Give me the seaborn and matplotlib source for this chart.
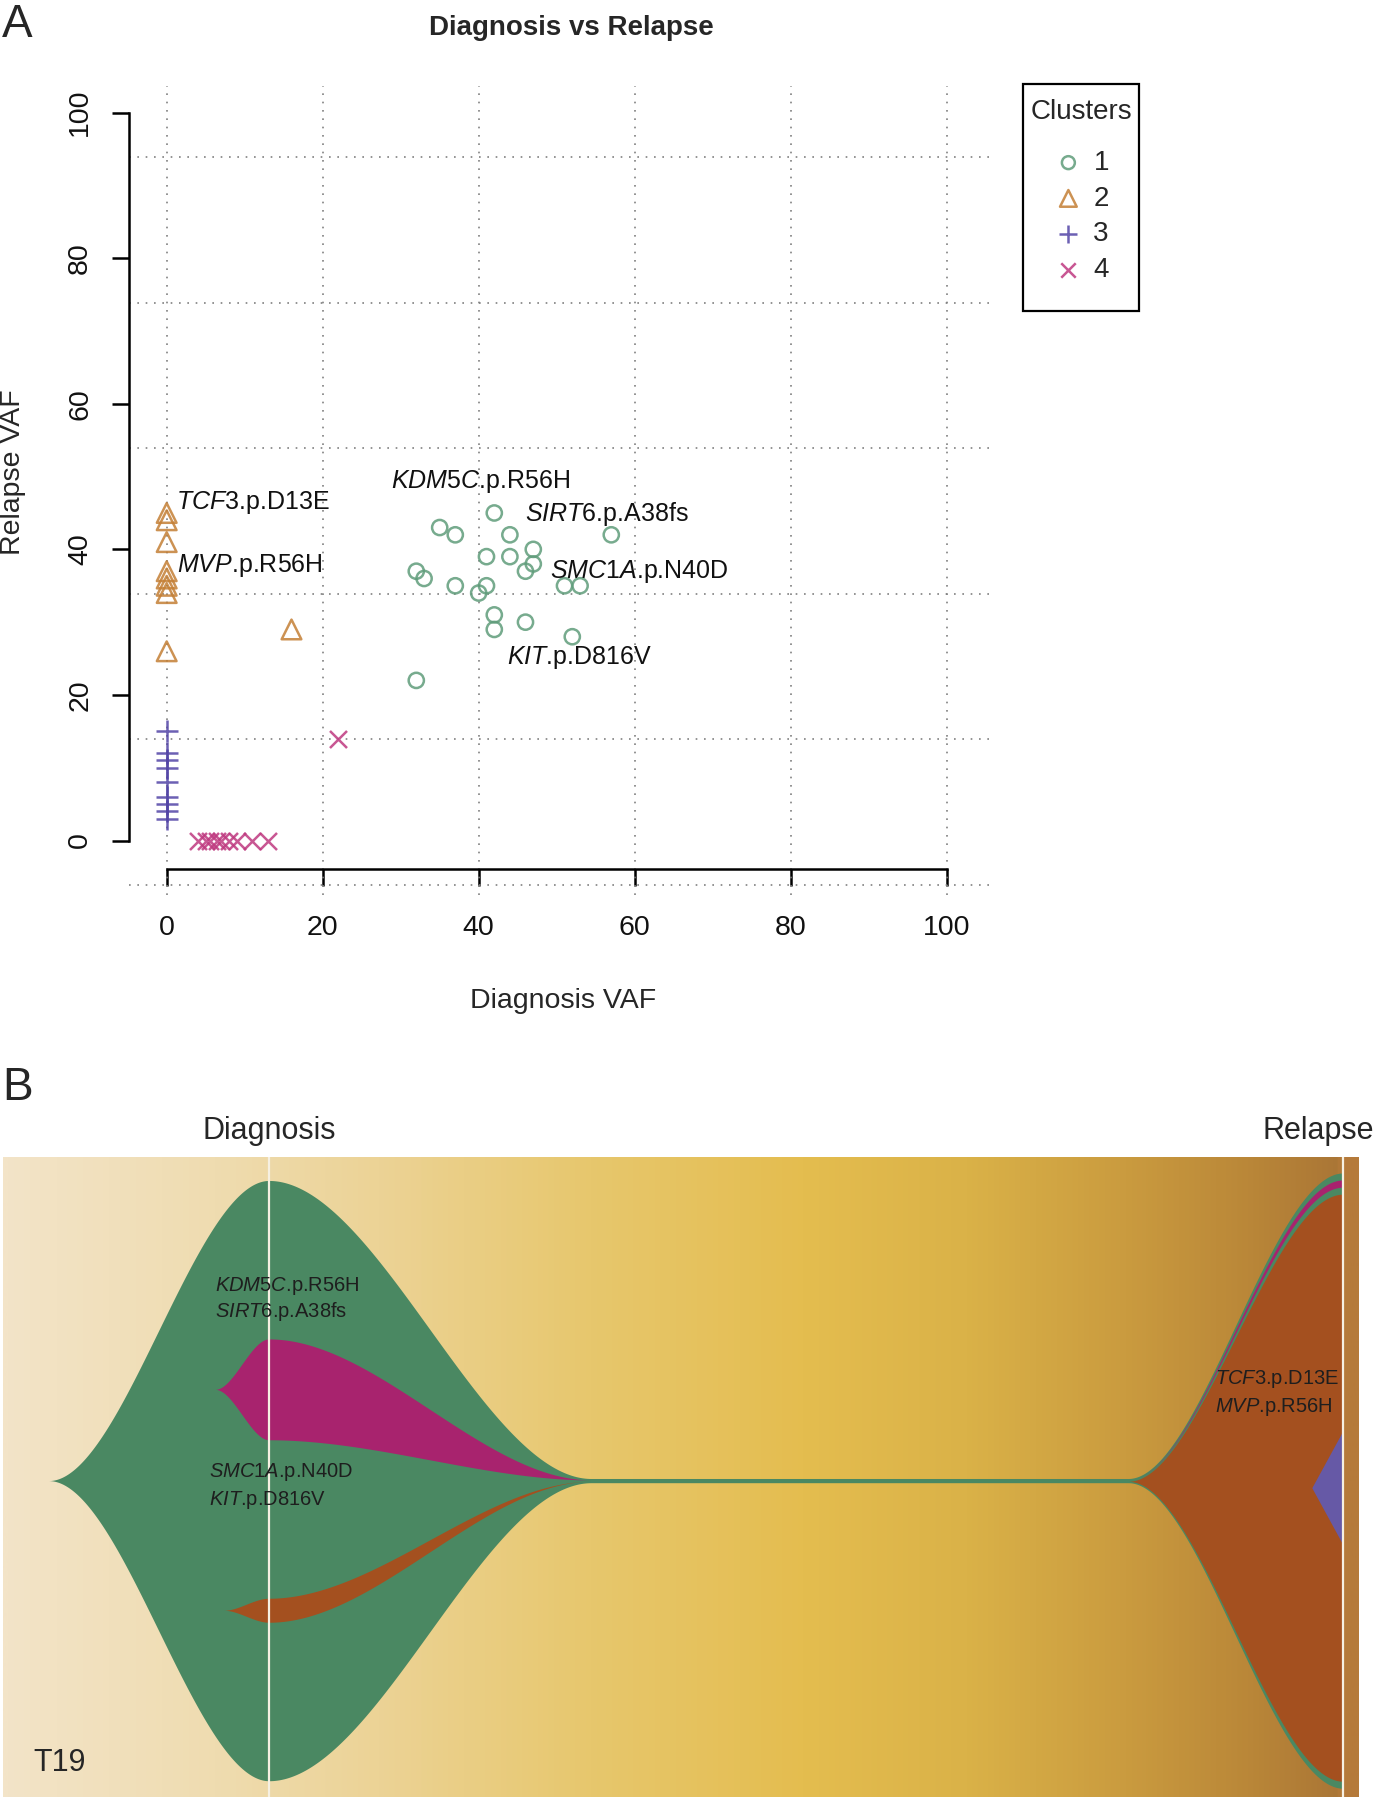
import numpy as np
import pandas as pd
import matplotlib
matplotlib.use('Agg')
import matplotlib.pyplot as plt
import seaborn as sns
from matplotlib.colors import LinearSegmentedColormap
from matplotlib.patches import Rectangle

# ---- panel A: VAF per mutation, by cluster ----
diag_1 = [42, 35, 37, 44, 57, 47, 41, 44, 47, 46, 32, 33, 37, 41, 40, 51, 53, 42, 42, 46, 52, 32]
rel_1 = [45, 43, 42, 42, 42, 40, 39, 39, 38, 37, 37, 36, 35, 35, 34, 35, 35, 31, 29, 30, 28, 22]
diag_2 = [0, 0, 0, 0, 0, 0, 0, 0, 16]
rel_2 = [45, 44, 41, 37, 36, 35, 34, 26, 29]
diag_3 = [0, 0, 0, 0, 0, 0, 0, 0, 0]
rel_3 = [15, 12, 11, 10, 8, 6, 5, 4, 3]
diag_4 = [22, 4, 5, 5.5, 6.5, 7, 8, 9, 11, 13]
rel_4 = [14, 0, 0, 0, 0, 0, 0, 0, 0, 0]

clusters = [1, 2, 3, 4]
cluster_colors = {1: '#5f9c7a', 2: '#c47f35', 3: '#5244a6', 4: '#bf3a80'}
cluster_markers = {1: 'o', 2: '^', 3: '+', 4: 'x'}
cluster_sizes = {1: 120, 2: 200, 3: 230, 4: 150}

gene_labels = [r'$\mathit{TCF3}$.p.D13E', r'$\mathit{MVP}$.p.R56H', r'$\mathit{KDM5C}$.p.R56H',
               r'$\mathit{SIRT6}$.p.A38fs', r'$\mathit{SMC1A}$.p.N40D', r'$\mathit{KIT}$.p.D816V']
gene_x = [1.2, 1.3, 28.8, 45.9, 49.1, 43.6]
gene_y = [46.5, 37.8, 49.3, 44.8, 36.9, 25.2]

# ---- panel B: fish plot, clone fractions at each timepoint ----
fish_time = [0, 30, 80, 100]          # diagnosis, remission, remission, relapse
frac_clone1 = [100, 0.7, 0.7, 102.5]
frac_clone2 = [4, 0, 0, 97.8]
frac_clone3 = [0, 0, 0, 19]
frac_clone4 = [16.8, 0, 0, 1.2]
clone_parent = {1: 0, 2: 1, 3: 2, 4: 1}
clone_start = {1: -20.5, 2: -4.2, 3: 97.1, 4: -5.0}
clone_colors = {1: '#4a8862', 2: '#a4501f', 3: '#6659a6', 4: '#a8236e'}

df = pd.DataFrame({
    'diag': diag_1 + diag_2 + diag_3 + diag_4,
    'rel': rel_1 + rel_2 + rel_3 + rel_4,
    'cluster': [1] * len(diag_1) + [2] * len(diag_2) + [3] * len(diag_3) + [4] * len(diag_4),
})

sns.set_style('white')
plt.rcParams['font.family'] = ['Liberation Sans', 'DejaVu Sans']
plt.rcParams['mathtext.fontset'] = 'custom'
plt.rcParams['mathtext.rm'] = 'Liberation Sans'
plt.rcParams['mathtext.it'] = 'Liberation Sans:italic'

fig = plt.figure(figsize=(13.75, 18), dpi=100)

# ================= panel A =================
ax = fig.add_axes([0.0940, 0.5027, 0.6257, 0.4493])
for cl in clusters:
    sub = df[df['cluster'] == cl]
    kw = dict(marker=cluster_markers[cl], s=cluster_sizes[cl], linewidth=1.8, alpha=0.85,
              label=str(cl), ax=ax, zorder=3)
    if cluster_markers[cl] in ('o', '^'):
        kw.update(facecolor='none', edgecolor=cluster_colors[cl])
    else:
        kw.update(color=cluster_colors[cl])
    sns.scatterplot(data=sub, x='diag', y='rel', **kw)

ax.set_xlim(-4.8, 105.5)
ax.set_ylim(-7.5, 103.6)
ax.set_xticks([0, 20, 40, 60, 80, 100])
ax.set_yticks([0, 20, 40, 60, 80, 100])
ax.set_xlabel('')
ax.set_ylabel('')

for gx in [0, 20, 40, 60, 80, 100]:
    ax.axvline(gx, color='#808080', lw=1.2, ls=(0, (1, 4)), zorder=1)
for gy in [-6.1, 13.9, 33.9, 53.9, 73.9, 93.9]:
    ax.axhline(gy, color='#808080', lw=1.2, ls=(0, (1, 4)), zorder=1)

for side in ['top', 'right']:
    ax.spines[side].set_visible(False)
ax.spines['bottom'].set_position(('data', -3.96))
ax.spines['bottom'].set_bounds(0, 100)
ax.spines['left'].set_bounds(0, 100)
for side in ['bottom', 'left']:
    ax.spines[side].set_linewidth(1.8)
    ax.spines[side].set_color('black')
ax.tick_params(axis='both', bottom=True, left=True, direction='out', length=12, width=1.8,
               labelsize=20.5, color='black', labelcolor='#111111')
ax.tick_params(axis='x', pad=21)
ax.tick_params(axis='y', pad=14)
plt.setp(ax.get_yticklabels(), rotation=90, va='center', ha='right')

for lab, lx, ly in zip(gene_labels, gene_x, gene_y):
    ax.text(lx, ly, lab, fontsize=18, ha='left', va='center', zorder=4, color='#111111')

leg = ax.legend(loc='upper left', bbox_to_anchor=(0.7669, 0.9167), bbox_transform=fig.transFigure,
                frameon=False, fontsize=20, handlelength=1.0, handletextpad=0.4,
                labelspacing=0.35, borderpad=0, borderaxespad=0, markerscale=0.85)
fig.patches.append(Rectangle((0.7442, 1 - 310.7 / 1800), 116 / 1375, 226.7 / 1800,
                             transform=fig.transFigure, fill=False, ec='black', lw=1.6))
fig.text(0.7867, 1 - 111.7 / 1800, 'Clusters', fontsize=20, ha='center', va='center')

fig.text(0.4158, 1 - 35 / 1800, 'Diagnosis vs Relapse', fontsize=20, fontweight='bold',
         ha='center', va='baseline')
fig.text(0.4098, 1 - 1008 / 1800, 'Diagnosis VAF', fontsize=20.5, ha='center', va='baseline')
fig.text(0.0095, 0.7378, 'Relapse VAF', fontsize=20.5, ha='center', va='center', rotation=90)
fig.text(0.0015, 1 - 36.7 / 1800, 'A', fontsize=33, ha='left', va='baseline')
fig.text(0.0015, 1 - 1099.5 / 1800, 'B', fontsize=33, ha='left', va='baseline')

# ================= panel B =================
bx = fig.add_axes([0.0025, 0.0017, 0.9859, 0.3555])
x_lo, x_hi, y_lo, y_hi = -24.7, 101.5, -52.7, 53.9
bg_stops = [(-24.7, '#f3e4c8'), (-5, '#efdcb0'), (10, '#ecd396'), (30, '#e7c76d'),
            (50, '#e4bd4f'), (65, '#dab248'), (80, '#ca9b3f'), (92, '#b98638'),
            (99.9, '#aa7636'), (100.1, '#b57a3a'), (101.5, '#b57a3a')]
bg_cmap = LinearSegmentedColormap.from_list(
    'bg', [((p - x_lo) / (x_hi - x_lo), c) for p, c in bg_stops])
bx.imshow(np.linspace(0, 1, 1024)[None, :], cmap=bg_cmap, extent=[x_lo, x_hi, y_lo, y_hi],
          aspect='auto', zorder=0, interpolation='bilinear')

fracs = {1: frac_clone1, 2: frac_clone2, 3: frac_clone3, 4: frac_clone4}
children = {c: [k for k in [4, 2, 3] if clone_parent[k] == c] for c in [1, 2, 3, 4]}


def layout(i):
    pos = {1: (fracs[1][i] / 2, -fracs[1][i] / 2)}
    for parent in [1, 4, 2, 3]:
        kids = children[parent]
        if not kids:
            continue
        top = pos[parent][0]
        gap = (fracs[parent][i] - sum(fracs[k][i] for k in kids)) / (len(kids) + 1)
        y = top
        for k in kids:
            y -= gap
            pos[k] = (y, y - fracs[k][i])
            y -= fracs[k][i]
    return pos


lays = [layout(i) for i in range(len(fish_time))]

for cid in [1, 4, 2, 3]:
    first = next(i for i, t in enumerate(fish_time) if t >= clone_start[cid])
    t0, b0 = lays[first][cid]
    pts = [(clone_start[cid], (t0 + b0) / 2, (t0 + b0) / 2)]
    pts += [(fish_time[i], lays[i][cid][0], lays[i][cid][1]) for i in range(first, len(fish_time))]
    xs_all, top_all, bot_all = [], [], []
    for j, ((xa, ta, ba), (xb, tb, bb)) in enumerate(zip(pts[:-1], pts[1:])):
        u = np.linspace(0, 1, 150)
        s = u if (cid == 3 and j == 0) else u * u * (3 - 2 * u)
        xs_all.append(xa + (xb - xa) * u)
        top_all.append(ta + (tb - ta) * s)
        bot_all.append(ba + (bb - ba) * s)
    bx.fill_between(np.concatenate(xs_all), np.concatenate(bot_all), np.concatenate(top_all),
                    color=clone_colors[cid], lw=0, zorder=2)

for tx in [0, 100]:
    bx.axvline(tx, color='#f6f0e2', lw=1.6, zorder=3)

fish_text = [(-5.0, 32.4, r'$\mathit{KDM5C}$.p.R56H'), (-5.0, 28.1, r'$\mathit{SIRT6}$.p.A38fs'),
             (-5.56, 1.5, r'$\mathit{SMC1A}$.p.N40D'), (-5.56, -3.3, r'$\mathit{KIT}$.p.D816V'),
             (88.1, 17.0, r'$\mathit{TCF3}$.p.D13E'), (88.1, 12.2, r'$\mathit{MVP}$.p.R56H')]
for fx, fy, ft in fish_text:
    bx.text(fx, fy, ft, fontsize=14.5, color='#1e1e1e', ha='left', va='center', zorder=4)

bx.text(-21.9, -47.0, 'T19', fontsize=22, ha='left', va='center', zorder=4)
bx.text(0, 58.3, 'Diagnosis', fontsize=22, ha='center', va='center', clip_on=False)
bx.text(97.7, 58.3, 'Relapse', fontsize=22, ha='center', va='center', clip_on=False)
bx.set_xlim(x_lo, x_hi)
bx.set_ylim(y_lo, y_hi)
bx.set_axis_off()

fig.savefig('out.png', dpi=100)
